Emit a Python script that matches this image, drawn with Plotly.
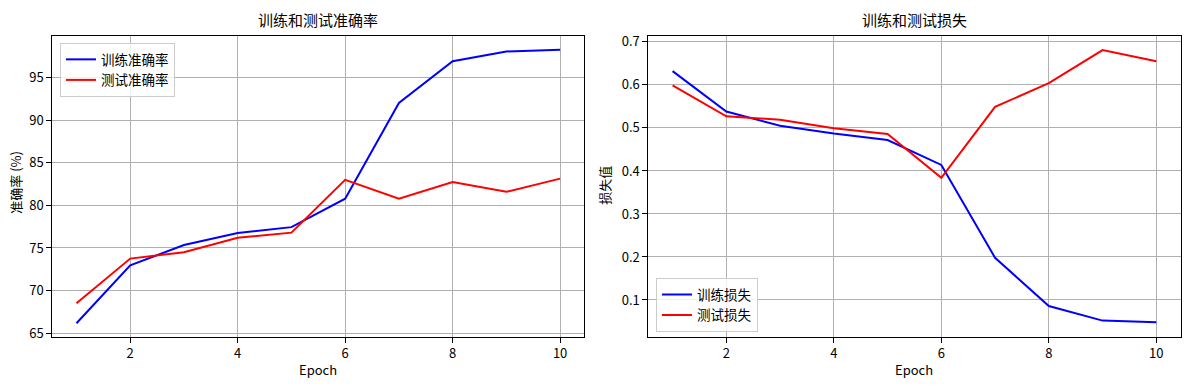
import plotly.graph_objects as go

epochs = [1, 2, 3, 4, 5, 6, 7, 8, 9, 10]
train_acc = [66.15, 72.95, 75.35, 76.75, 77.45, 80.8, 92.05, 96.95, 98.1, 98.3]
test_acc = [68.5, 73.75, 74.5, 76.2, 76.8, 83.0, 80.8, 82.75, 81.6, 83.15]
train_loss = [0.632, 0.538, 0.505, 0.487, 0.472, 0.414, 0.198, 0.086, 0.052, 0.048]
test_loss = [0.599, 0.527, 0.519, 0.499, 0.486, 0.384, 0.549, 0.604, 0.681, 0.655]

W, H = 1189, 390
FONT = "Noto Sans CJK SC, sans-serif"

fig = go.Figure()
fig.add_trace(go.Scatter(x=epochs, y=train_acc, mode="lines", name="训练准确率",
                         line=dict(color="blue", width=2), xaxis="x", yaxis="y", legend="legend"))
fig.add_trace(go.Scatter(x=epochs, y=test_acc, mode="lines", name="测试准确率",
                         line=dict(color="red", width=2), xaxis="x", yaxis="y", legend="legend"))
fig.add_trace(go.Scatter(x=epochs, y=train_loss, mode="lines", name="训练损失",
                         line=dict(color="blue", width=2), xaxis="x2", yaxis="y2", legend="legend2"))
fig.add_trace(go.Scatter(x=epochs, y=test_loss, mode="lines", name="测试损失",
                         line=dict(color="red", width=2), xaxis="x2", yaxis="y2", legend="legend2"))

ytop = 1 - 32.5 / H
ybot = 1 - 340.7 / H
L1, R1 = 52.3, 584.3
L2, R2 = 648.4, 1180.5

axis_common = dict(showline=True, mirror=True, linecolor="black", linewidth=1,
                   showgrid=True, gridcolor="#b0b0b0", gridwidth=1, zeroline=False,
                   ticks="outside", ticklen=5, tickcolor="black",
                   tickfont=dict(family=FONT, size=13, color="black"))

fig.update_layout(
    width=W, height=H,
    margin=dict(l=0, r=0, t=0, b=0),
    paper_bgcolor="white", plot_bgcolor="white",
    font=dict(family=FONT, size=13, color="black"),
    xaxis=dict(domain=[L1 / W, R1 / W], range=[0.55, 10.45], tickvals=[2, 4, 6, 8, 10],
               anchor="y", **axis_common),
    yaxis=dict(domain=[ybot, ytop], range=[64.55, 99.95], tickvals=[65, 70, 75, 80, 85, 90, 95],
               anchor="x", **axis_common),
    xaxis2=dict(domain=[L2 / W, R2 / W], range=[0.55, 10.45], tickvals=[2, 4, 6, 8, 10],
                anchor="y2", **axis_common),
    yaxis2=dict(domain=[ybot, ytop], range=[0.0143, 0.7143],
                tickvals=[0.1, 0.2, 0.3, 0.4, 0.5, 0.6, 0.7], tickformat=".1f",
                anchor="x2", **axis_common),
    legend=dict(x=60 / W, y=1 - 40 / H, xanchor="left", yanchor="top",
                bgcolor="rgba(255,255,255,0.8)", bordercolor="#cccccc", borderwidth=1,
                font=dict(family=FONT, size=13.5), tracegroupgap=0, itemwidth=30),
    legend2=dict(x=656 / W, y=1 - 336 / H, xanchor="left", yanchor="bottom",
                 bgcolor="rgba(255,255,255,0.8)", bordercolor="#cccccc", borderwidth=1,
                 font=dict(family=FONT, size=13.5), tracegroupgap=0, itemwidth=30),
    showlegend=True,
)

annos = [
    dict(text="训练和测试准确率", x=(L1 + R1) / 2 / W, y=1 - 16 / H, size=15, angle=0),
    dict(text="训练和测试损失", x=(L2 + R2) / 2 / W, y=1 - 16 / H, size=15, angle=0),
    dict(text="Epoch", x=(L1 + R1) / 2 / W, y=1 - 374 / H, size=13, angle=0),
    dict(text="Epoch", x=(L2 + R2) / 2 / W, y=1 - 374 / H, size=13, angle=0),
    dict(text="准确率 (%)", x=16 / W, y=1 - 183 / H, size=13, angle=-90),
    dict(text="损失值", x=605 / W, y=1 - 186 / H, size=13, angle=-90),
]
for a in annos:
    fig.add_annotation(text=a["text"], x=a["x"], y=a["y"], xref="paper", yref="paper",
                       xanchor="center", yanchor="middle", showarrow=False, textangle=a["angle"],
                       font=dict(family=FONT, size=a["size"], color="black"))

fig.write_html("out.html", config={"displayModeBar": False},
               post_script="document.body.style.margin='0';")
